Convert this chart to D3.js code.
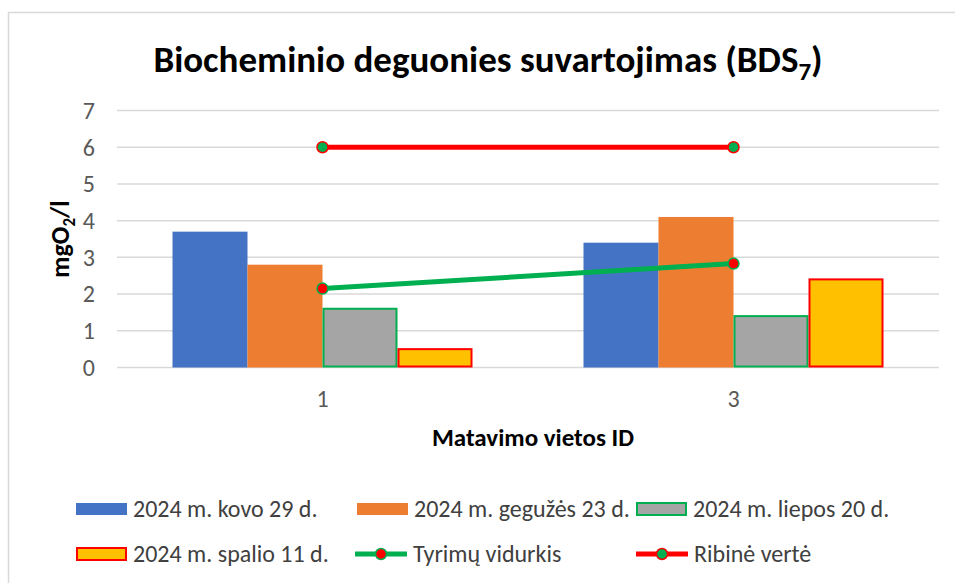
<!DOCTYPE html>
<html>
<head>
<meta charset="utf-8">
<script src="https://cdn.jsdelivr.net/npm/d3@7"></script>
<style>
	body { margin: 0; background: #fff; }
	svg { display: block; font-family: Carlito, "Liberation Sans Narrow", "Liberation Sans", sans-serif; }
</style>
</head>
<body>
<div id="chart"></div>
<script>
var categories = ["1", "3"];
var seriesNames = ["2024 m. kovo 29 d.", "2024 m. gegužės 23 d.", "2024 m. liepos 20 d.", "2024 m. spalio 11 d."];
var kovo = [3.7, 3.4];
var geguzes = [2.8, 4.1];
var liepos = [1.6, 1.4];
var spalio = [0.5, 2.4];
var vidurkis = [2.15, 2.83];
var ribine = [6, 6];
var yTicks = [0, 1, 2, 3, 4, 5, 6, 7];

var barSeries = [kovo, geguzes, liepos, spalio];
var barFill = ['#4472C4', '#ED7D31', '#A5A5A5', '#FFC000'];
var barStroke = [null, null, '#00B050', '#FF0000'];

var width = 955, height = 583;
var svg = d3.select("#chart").append("svg")
	.attr("width", width)
	.attr("height", height);

// chart area frame (top and left edges visible)
svg.append("path")
	.attr("d", "M8.5,583 V12.5 H955")
	.attr("fill", "none")
	.attr("stroke", "#D9D9D9")
	.attr("stroke-width", 1.5);

var y = d3.scaleLinear().domain([0, 7]).range([367.5, 110.5]);
var x = d3.scaleBand().domain(categories).range([117, 939]);
var xs = d3.scaleBand().domain(d3.range(barSeries.length)).range([0, x.bandwidth()]).paddingOuter(0.74);

// gridlines
svg.append("g")
	.selectAll("line")
	.data(yTicks)
	.enter().append("line")
	.attr("x1", 117).attr("x2", 939)
	.attr("y1", function (d) { return y(d); })
	.attr("y2", function (d) { return y(d); })
	.attr("stroke", "#D9D9D9")
	.attr("stroke-width", 1.5);

// y tick labels
svg.append("g")
	.selectAll("text")
	.data(yTicks)
	.enter().append("text")
	.attr("x", 95)
	.attr("y", function (d) { return y(d); })
	.attr("dy", "0.35em")
	.attr("text-anchor", "end")
	.attr("fill", "#595959")
	.style("font-size", "24px")
	.text(function (d) { return d; });

// bars
barSeries.forEach(function (vals, s) {
	svg.append("g")
		.selectAll("rect")
		.data(vals)
		.enter().append("rect")
		.attr("x", function (d, i) { return x(categories[i]) + xs(s) + (barStroke[s] ? 1 : 0); })
		.attr("width", xs.bandwidth() - (barStroke[s] ? 2 : 0))
		.attr("y", function (d) { return y(d); })
		.attr("height", function (d) { return y(0) - y(d) - (barStroke[s] ? 1 : 0); })
		.attr("fill", barFill[s])
		.attr("stroke", barStroke[s] || "none")
		.attr("stroke-width", 2);
});

// lines
var line = d3.line()
	.x(function (d, i) { return x(categories[i]) + x.bandwidth() / 2; })
	.y(function (d) { return y(d); });

function drawLine(vals, lineColor, markerColor) {
	svg.append("path")
		.datum(vals)
		.attr("d", line)
		.attr("fill", "none")
		.attr("stroke", lineColor)
		.attr("stroke-width", 5);
	svg.append("g")
		.selectAll("circle")
		.data(vals)
		.enter().append("circle")
		.attr("cx", function (d, i) { return x(categories[i]) + x.bandwidth() / 2; })
		.attr("cy", function (d) { return y(d); })
		.attr("r", 5.5)
		.attr("fill", markerColor)
		.attr("stroke", lineColor)
		.attr("stroke-width", 1.5);
}
drawLine(vidurkis, '#00B050', '#FF0000');
drawLine(ribine, '#FF0000', '#00B050');

// x tick labels
svg.append("g")
	.selectAll("text")
	.data(categories)
	.enter().append("text")
	.attr("x", function (d) { return x(d) + x.bandwidth() / 2; })
	.attr("y", 399)
	.attr("dy", "0.35em")
	.attr("text-anchor", "middle")
	.attr("fill", "#595959")
	.style("font-size", "24px")
	.text(function (d) { return d; });

// titles
var title = svg.append("text")
	.attr("x", 488)
	.attr("y", 72)
	.attr("text-anchor", "middle")
	.attr("fill", "#000")
	.style("font-size", "37px")
	.style("font-weight", "bold");
title.append("tspan").text("Biocheminio deguonies suvartojimas (BDS");
title.append("tspan").attr("dy", 8).style("font-size", "25px").text("7");
title.append("tspan").attr("dy", -8).text(")");

svg.append("text")
	.attr("x", 533)
	.attr("y", 437)
	.attr("dy", "0.35em")
	.attr("text-anchor", "middle")
	.style("font-size", "25px")
	.style("font-weight", "bold")
	.text("Matavimo vietos ID");

var yl = svg.append("text")
	.attr("transform", "translate(69,239) rotate(-90)")
	.attr("text-anchor", "middle")
	.style("font-size", "26px")
	.style("font-weight", "bold");
yl.append("tspan").text("mgO");
yl.append("tspan").attr("dy", 6).style("font-size", "17px").text("2");
yl.append("tspan").attr("dy", -6).text("/l");

// legend
var legendItems = [
	{ name: seriesNames[0], type: "bar", s: 0, lx: 76, ly: 509 },
	{ name: seriesNames[1], type: "bar", s: 1, lx: 357, ly: 509 },
	{ name: seriesNames[2], type: "bar", s: 2, lx: 636, ly: 509 },
	{ name: seriesNames[3], type: "bar", s: 3, lx: 76, ly: 554 },
	{ name: "Tyrimų vidurkis", type: "line", c: '#00B050', m: '#FF0000', lx: 355, ly: 554 },
	{ name: "Ribinė vertė", type: "line", c: '#FF0000', m: '#00B050', lx: 636, ly: 554 }
];
var lg = svg.append("g").selectAll("g")
	.data(legendItems)
	.enter().append("g")
	.attr("transform", function (d) { return "translate(" + d.lx + "," + d.ly + ")"; });
lg.filter(function (d) { return d.type == "bar"; })
	.append("rect")
	.attr("x", function (d) { return barStroke[d.s] ? 1 : 0; })
	.attr("y", -6)
	.attr("width", function (d) { return barStroke[d.s] ? 49 : 51; })
	.attr("height", 12)
	.attr("fill", function (d) { return barFill[d.s]; })
	.attr("stroke", function (d) { return barStroke[d.s] || "none"; })
	.attr("stroke-width", 2);
var ll = lg.filter(function (d) { return d.type == "line"; });
ll.append("line")
	.attr("x1", 0).attr("x2", 52)
	.attr("stroke", function (d) { return d.c; })
	.attr("stroke-width", 5);
ll.append("circle")
	.attr("cx", 26)
	.attr("r", 5.5)
	.attr("fill", function (d) { return d.m; })
	.attr("stroke", function (d) { return d.c; })
	.attr("stroke-width", 1.5);
lg.append("text")
	.attr("x", function (d) { return d.type == "bar" ? 57 : 58; })
	.attr("dy", "0.35em")
	.attr("fill", "#404040")
	.style("font-size", "24px")
	.text(function (d) { return d.name; });
</script>
</body>
</html>
